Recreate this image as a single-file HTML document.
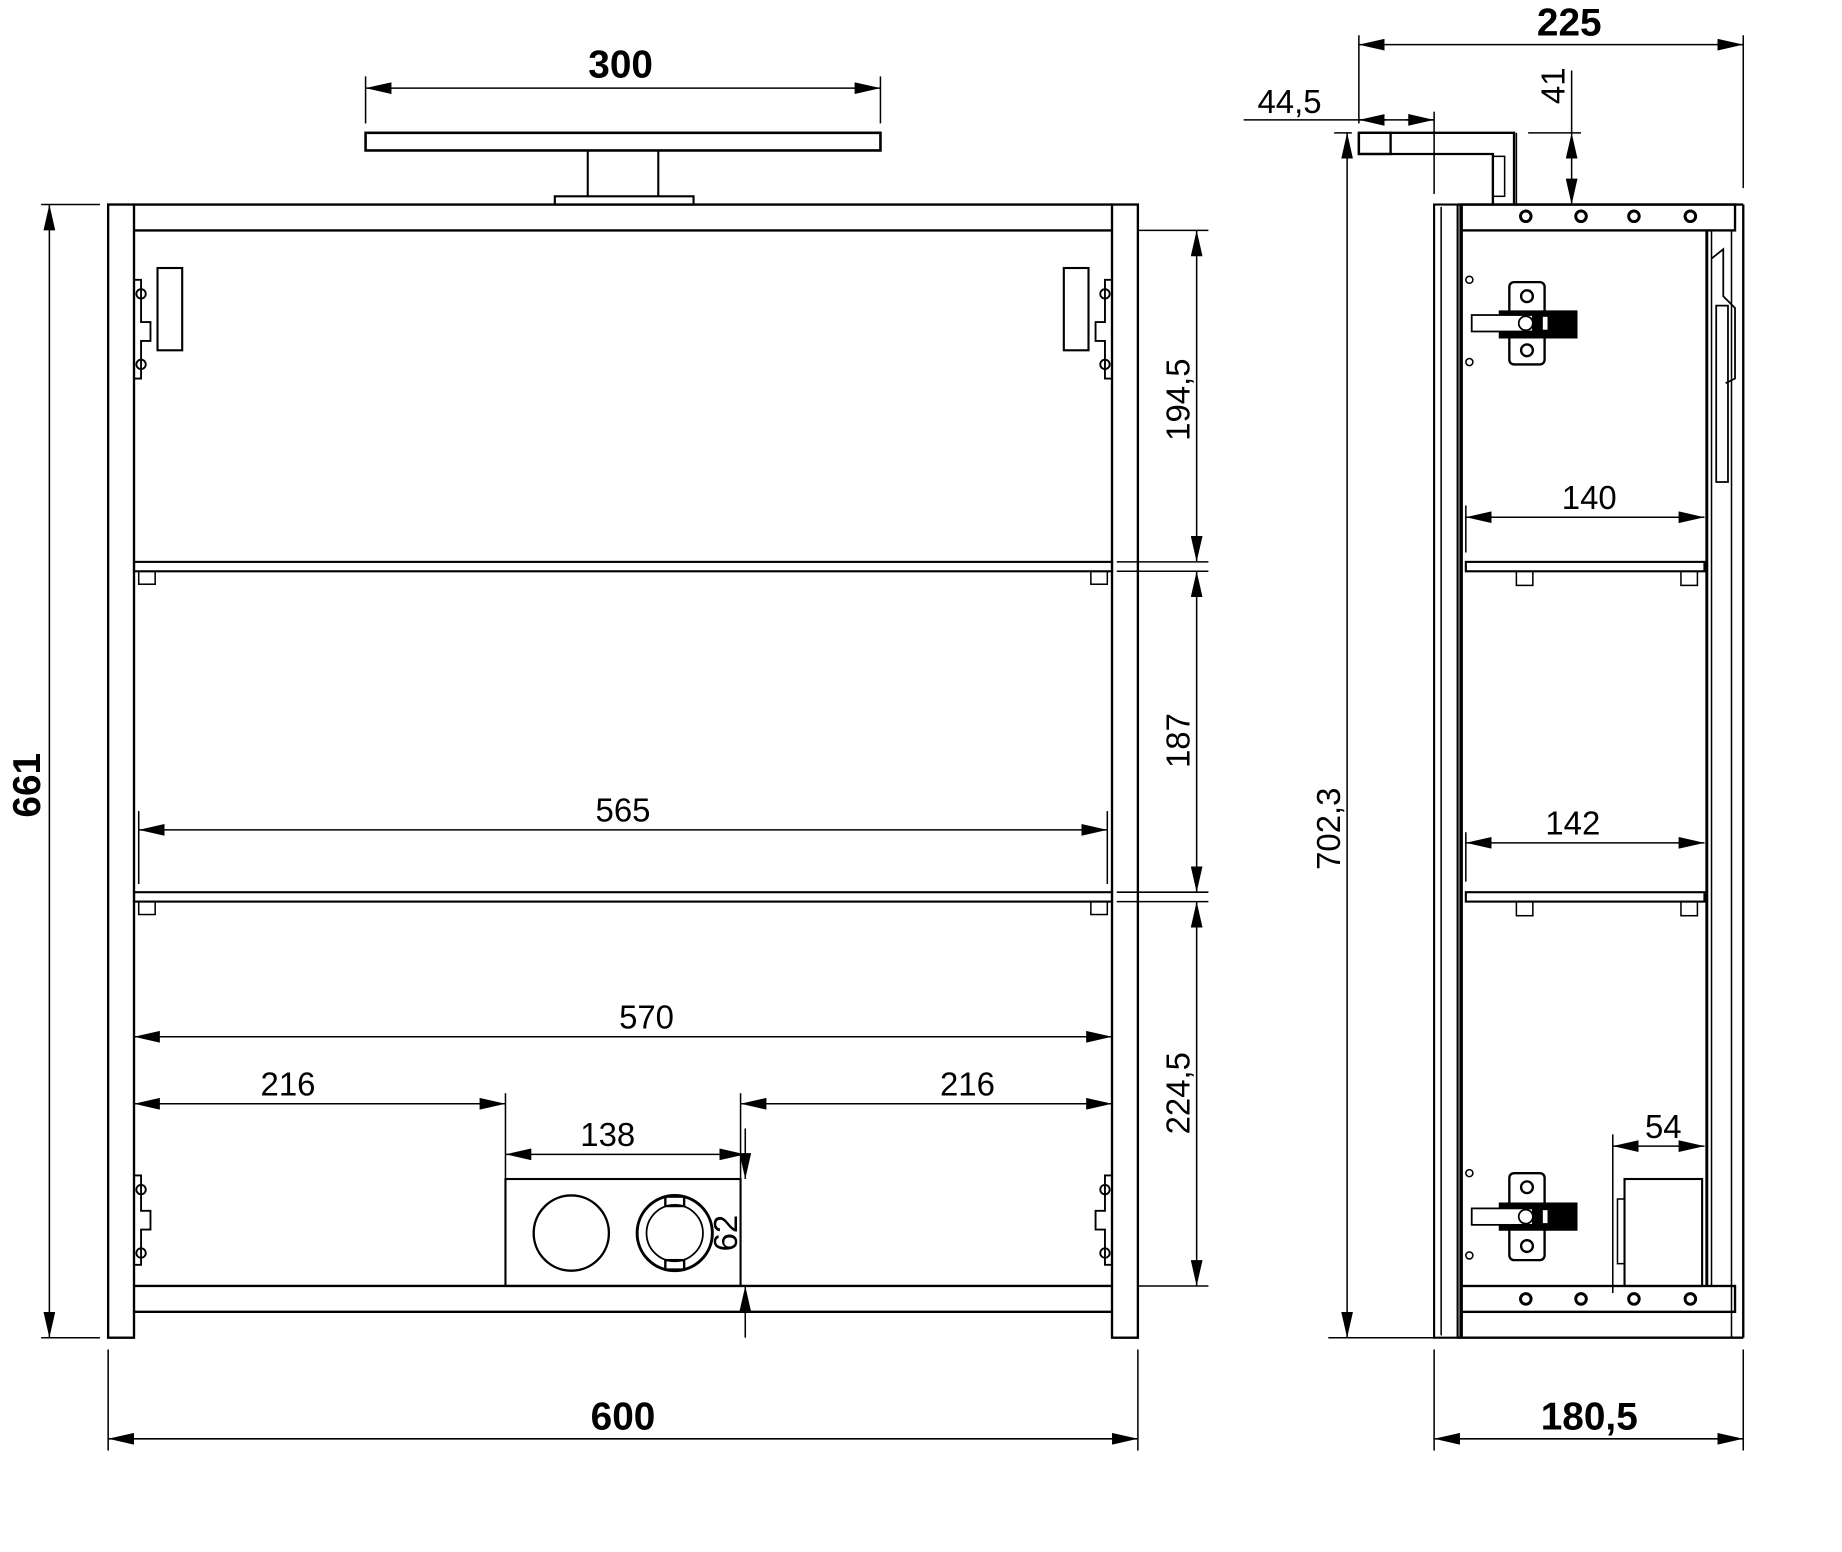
<!DOCTYPE html>
<html><head><meta charset="utf-8"><style>
html,body{margin:0;padding:0;background:#fff;}
svg{display:block;}
text{font-family:"Liberation Sans",Arial,sans-serif;fill:#000;}
.b{font-weight:bold;font-size:33px;}
.n{font-size:28px;}
</style></head><body>
<svg width="1842" height="1552" viewBox="0 0 1567 1320.3" xmlns="http://www.w3.org/2000/svg">
<defs>
<marker id="a" viewBox="0 0 22 10" refX="22" refY="5" markerWidth="22" markerHeight="10" markerUnits="userSpaceOnUse" orient="auto-start-reverse"><path d="M0,0L22,5L0,10z" fill="#000"/></marker>
</defs>
<g stroke="#000" fill="none" stroke-width="1.3">
<line x1="311" y1="75" x2="749" y2="75" marker-start="url(#a)" marker-end="url(#a)"/>
<line x1="311" y1="65" x2="311" y2="105"/><line x1="749" y1="65" x2="749" y2="105"/>
<rect x="311" y="113" width="438" height="15" stroke-width="2.2"/>
<line x1="500" y1="128" x2="500" y2="167" stroke-width="1.8"/><line x1="560" y1="128" x2="560" y2="167" stroke-width="1.8"/>
<rect x="472" y="167" width="118" height="7" stroke-width="1.8"/>
<rect x="92" y="174" width="22" height="964" stroke-width="2"/>
<rect x="946" y="174" width="22" height="964" stroke-width="2"/>
<line x1="114" y1="174" x2="946" y2="174" stroke-width="2"/>
<line x1="114" y1="196" x2="946" y2="196" stroke-width="2"/>
<line x1="114" y1="1094" x2="946" y2="1094" stroke-width="2"/>
<line x1="114" y1="1116" x2="946" y2="1116" stroke-width="2"/>
<rect x="114" y="478" width="832" height="8" stroke-width="1.8"/>
<rect x="118" y="486" width="14" height="11"/><rect x="928" y="486" width="14" height="11"/>
<rect x="114" y="759" width="832" height="8" stroke-width="1.8"/>
<rect x="118" y="767" width="14" height="11"/><rect x="928" y="767" width="14" height="11"/>
<rect x="134" y="228" width="21" height="70" stroke-width="1.8"/>
<rect x="905" y="228" width="21" height="70" stroke-width="1.8"/>
<g stroke-width="1.6">
<path d="M114,238h6v36h8v16h-8v32h-6"/><circle cx="120" cy="250" r="4"/><circle cx="120" cy="310" r="4"/>
<path d="M946,238h-6v36h-8v16h8v32h6"/><circle cx="940" cy="250" r="4"/><circle cx="940" cy="310" r="4"/>
<path d="M114,1000h6v30h8v16h-8v30h-6"/><circle cx="120" cy="1012" r="4"/><circle cx="120" cy="1066" r="4"/>
<path d="M946,1000h-6v30h-8v16h8v30h6"/><circle cx="940" cy="1012" r="4"/><circle cx="940" cy="1066" r="4"/>
</g>
<rect x="430" y="1003" width="200" height="91" stroke-width="1.8"/>
<circle cx="486" cy="1049" r="32" stroke-width="2"/>
<circle cx="574" cy="1049" r="32" stroke-width="2.5"/>
<circle cx="574" cy="1049" r="24" stroke-width="1.5"/>
<rect x="566" y="1018" width="16" height="8" stroke-width="2"/>
<rect x="566" y="1072" width="16" height="8" stroke-width="2"/>
<line x1="42" y1="174" x2="42" y2="1138" marker-start="url(#a)" marker-end="url(#a)"/>
<line x1="35" y1="174" x2="85" y2="174"/><line x1="35" y1="1138" x2="85" y2="1138"/>
<line x1="1018" y1="196" x2="1018" y2="478" marker-start="url(#a)" marker-end="url(#a)"/>
<line x1="1018" y1="486" x2="1018" y2="759" marker-start="url(#a)" marker-end="url(#a)"/>
<line x1="1018" y1="767" x2="1018" y2="1094" marker-start="url(#a)" marker-end="url(#a)"/>
<line x1="968" y1="196" x2="1028" y2="196"/><line x1="950" y1="478" x2="1028" y2="478"/><line x1="950" y1="486" x2="1028" y2="486"/>
<line x1="950" y1="759" x2="1028" y2="759"/><line x1="950" y1="767" x2="1028" y2="767"/><line x1="968" y1="1094" x2="1028" y2="1094"/>
<line x1="118" y1="706" x2="942" y2="706" marker-start="url(#a)" marker-end="url(#a)"/>
<line x1="118" y1="690" x2="118" y2="752"/><line x1="942" y1="690" x2="942" y2="752"/>
<line x1="114" y1="882" x2="946" y2="882" marker-start="url(#a)" marker-end="url(#a)"/>
<line x1="114" y1="939" x2="430" y2="939" marker-start="url(#a)" marker-end="url(#a)"/>
<line x1="630" y1="939" x2="946" y2="939" marker-start="url(#a)" marker-end="url(#a)"/>
<line x1="430" y1="930" x2="430" y2="1003"/><line x1="630" y1="930" x2="630" y2="1003"/>
<line x1="430" y1="982" x2="634" y2="982" marker-start="url(#a)" marker-end="url(#a)"/>
<line x1="634" y1="960" x2="634" y2="1003" marker-end="url(#a)"/>
<line x1="634" y1="1138" x2="634" y2="1094" marker-end="url(#a)"/>
<line x1="92" y1="1224" x2="968" y2="1224" marker-start="url(#a)" marker-end="url(#a)"/>
<line x1="92" y1="1148" x2="92" y2="1234"/><line x1="968" y1="1148" x2="968" y2="1234"/>

<line x1="1156" y1="38" x2="1483" y2="38" marker-start="url(#a)" marker-end="url(#a)"/>
<line x1="1156" y1="30" x2="1156" y2="105"/><line x1="1483" y1="30" x2="1483" y2="160"/>
<line x1="1058" y1="102" x2="1220" y2="102"/>
<line x1="1180" y1="102" x2="1156" y2="102" marker-end="url(#a)"/>
<line x1="1196" y1="102" x2="1220" y2="102" marker-end="url(#a)"/>
<line x1="1220" y1="95" x2="1220" y2="165"/>
<line x1="1337" y1="143" x2="1337" y2="113" marker-end="url(#a)"/>
<line x1="1337" y1="143" x2="1337" y2="174" marker-end="url(#a)"/>
<line x1="1337" y1="60" x2="1337" y2="113"/>
<line x1="1300" y1="113" x2="1345" y2="113"/>
<path d="M1156,113H1288V174M1156,113V131H1270V174" stroke-width="2"/>
<rect x="1156" y="113" width="27" height="18" stroke-width="2"/>
<rect x="1270" y="133" width="10" height="34"/>
<line x1="1290" y1="113" x2="1290" y2="174"/>
<line x1="1146" y1="113" x2="1146" y2="1138" marker-start="url(#a)" marker-end="url(#a)"/>
<line x1="1135" y1="113" x2="1150" y2="113"/><line x1="1130" y1="1138" x2="1220" y2="1138"/>
<rect x="1220" y="174" width="20" height="964" stroke-width="1.8"/>
<line x1="1226" y1="176" x2="1226" y2="1136"/>
<line x1="1243" y1="174" x2="1243" y2="1138" stroke-width="3"/>
<line x1="1240" y1="174" x2="1483" y2="174" stroke-width="2"/>
<line x1="1240" y1="1138" x2="1483" y2="1138" stroke-width="2"/>
<line x1="1483" y1="174" x2="1483" y2="1138" stroke-width="2"/>
<rect x="1243" y="174" width="233" height="22" stroke-width="2"/>
<rect x="1243" y="1094" width="233" height="22" stroke-width="2"/>
<line x1="1452" y1="196" x2="1452" y2="1094" stroke-width="2.5"/>
<line x1="1456" y1="196" x2="1456" y2="1094"/>
<line x1="1473" y1="196" x2="1473" y2="1138"/>
<g stroke-width="2.5">
<circle cx="1298" cy="184" r="4.5"/><circle cx="1345" cy="184" r="4.5"/><circle cx="1390" cy="184" r="4.5"/><circle cx="1438" cy="184" r="4.5"/>
<circle cx="1298" cy="1105" r="4.5"/><circle cx="1345" cy="1105" r="4.5"/><circle cx="1390" cy="1105" r="4.5"/><circle cx="1438" cy="1105" r="4.5"/>
</g>
<path d="M1456,220l10,-8v40l10,10v60l-8,4M1460,260v150h10v-150z" stroke-width="1.5"/>
<rect x="1247" y="478" width="203" height="8" stroke-width="1.8"/>
<rect x="1290" y="486" width="14" height="12"/><rect x="1430" y="486" width="14" height="12"/>
<rect x="1247" y="759" width="203" height="8" stroke-width="1.8"/>
<rect x="1290" y="767" width="14" height="12"/><rect x="1430" y="767" width="14" height="12"/>
<g stroke-width="2">
<rect x="1284" y="240" width="30" height="70" rx="4" fill="#fff"/>
<path d="M1276,265h65v22h-65z" fill="#000"/>
<rect x="1252" y="268" width="52" height="14" fill="#fff" stroke-width="1.5"/>
<circle cx="1299" cy="252" r="5" fill="#fff"/><circle cx="1299" cy="298" r="5" fill="#fff"/>
<circle cx="1298" cy="275" r="6" fill="#fff" stroke-width="1.5"/>
<rect x="1312" y="269" width="5" height="12" fill="#fff" stroke-width="1"/>
<rect x="1284" y="998" width="30" height="74" rx="4" fill="#fff"/>
<path d="M1276,1024h65v22h-65z" fill="#000"/>
<rect x="1252" y="1028" width="52" height="14" fill="#fff" stroke-width="1.5"/>
<circle cx="1299" cy="1010" r="5" fill="#fff"/><circle cx="1299" cy="1060" r="5" fill="#fff"/>
<circle cx="1298" cy="1035" r="6" fill="#fff" stroke-width="1.5"/>
<rect x="1312" y="1029" width="5" height="12" fill="#fff" stroke-width="1"/>
</g>
<circle cx="1250" cy="238" r="3"/><circle cx="1250" cy="308" r="3"/><circle cx="1250" cy="998" r="3"/><circle cx="1250" cy="1068" r="3"/>
<rect x="1382" y="1003" width="66" height="91" stroke-width="1.8"/>
<rect x="1376" y="1020" width="6" height="55"/>
<line x1="1247" y1="440" x2="1450" y2="440" marker-start="url(#a)" marker-end="url(#a)"/>
<line x1="1247" y1="430" x2="1247" y2="470"/>
<line x1="1247" y1="717" x2="1450" y2="717" marker-start="url(#a)" marker-end="url(#a)"/>
<line x1="1247" y1="708" x2="1247" y2="750"/>
<line x1="1372" y1="975" x2="1450" y2="975" marker-start="url(#a)" marker-end="url(#a)"/>
<line x1="1372" y1="965" x2="1372" y2="1100"/>
<line x1="1220" y1="1224" x2="1483" y2="1224" marker-start="url(#a)" marker-end="url(#a)"/>
<line x1="1220" y1="1148" x2="1220" y2="1234"/><line x1="1483" y1="1148" x2="1483" y2="1234"/>
</g>
<text class="b" x="528" y="66" text-anchor="middle">300</text>
<text class="b" x="1335" y="30" text-anchor="middle">225</text>
<text class="b" x="530" y="1216" text-anchor="middle">600</text>
<text class="b" x="1352" y="1216" text-anchor="middle">180,5</text>
<text class="b" transform="translate(34,668) rotate(-90)" text-anchor="middle">661</text>
<text class="n" x="530" y="699" text-anchor="middle">565</text>
<text class="n" x="550" y="875" text-anchor="middle">570</text>
<text class="n" x="245" y="932" text-anchor="middle">216</text>
<text class="n" x="823" y="932" text-anchor="middle">216</text>
<text class="n" x="517" y="975" text-anchor="middle">138</text>
<text class="n" x="1352" y="433" text-anchor="middle">140</text>
<text class="n" x="1338" y="710" text-anchor="middle">142</text>
<text class="n" x="1415" y="968" text-anchor="middle">54</text>
<text class="n" x="1097" y="96" text-anchor="middle">44,5</text>
<text class="n" transform="translate(1012,340) rotate(-90)" text-anchor="middle">194,5</text>
<text class="n" transform="translate(1012,630) rotate(-90)" text-anchor="middle">187</text>
<text class="n" transform="translate(1012,930) rotate(-90)" text-anchor="middle">224,5</text>
<text class="n" transform="translate(1140,705) rotate(-90)" text-anchor="middle">702,3</text>
<text class="n" transform="translate(1331,73) rotate(-90)" text-anchor="middle">41</text>
<text class="n" transform="translate(627,1049) rotate(-90)" text-anchor="middle">62</text>
</svg>
</body></html>
